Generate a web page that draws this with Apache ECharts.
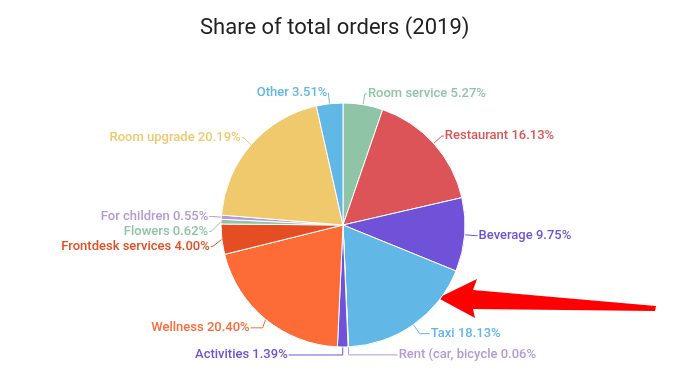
<!DOCTYPE html>
<html>
<head>
<meta charset="utf-8">
<script src="https://cdn.jsdelivr.net/npm/echarts@6/dist/echarts.min.js"></script>
<style>html,body{margin:0;padding:0;background:#fff;}#c{width:677px;height:379px;}</style>
</head>
<body>
<div id="c"></div>
<script>
var categories = ["Room service","Restaurant","Beverage","Taxi","Rent (car, bicycle","Activities","Wellness","Frontdesk services","Flowers","For children","Room upgrade","Other"];
var values = [5.27,16.13,9.75,18.13,0.06,1.39,20.40,4.00,0.62,0.55,20.19,3.51];
var colors = ["#8fc4a6","#dc5457","#6f52d8","#61b7e5","#b39ad6","#6f52d8","#fd6b37","#e54e22","#8fc4a6","#b39ad6","#efc96b","#61b7e5"];
var extraLen2 = {"Rent (car, bicycle":49, "Activities":54, "Taxi":10, "Wellness":12, "Other":0};

var chart = echarts.init(document.getElementById('c'), null, {renderer:'canvas'});
var data = categories.map(function(n,i){
  var d = {name:n, value:values[i], itemStyle:{color:colors[i]}, label:{color:colors[i]}, labelLine:{lineStyle:{color:colors[i]}}};
  if (extraLen2.hasOwnProperty(n)) { d.labelLine.length2 = extraLen2[n]; }
  if (n === 'Rent (car, bicycle' || n === 'Activities') { d.labelLine.length = 8; }
  return d;
});
chart.setOption({
  animation:false,
  title:{text:'Share of total orders (2019)', left:195, top:12, textStyle:{fontFamily:'Roboto', fontSize:22, fontWeight:'normal', color:'#222'}},
  series:[{
    type:'pie',
    center:[343,225],
    radius:[0,122],
    startAngle:90,
    clockwise:true,
    avoidLabelOverlap:true,
    itemStyle:{borderColor:'#fff', borderWidth:1},
    label:{show:true, position:'outside', fontFamily:'Roboto', fontSize:13, fontWeight:500, distanceToLabelLine:1,
      formatter:function(p){return p.name+' '+p.value.toFixed(2)+'%';}},
    labelLine:{show:true, length:11, length2:2, smooth:false},
    data:data
  }],
  graphic:[{
    type:'polygon',
    shape:{points:[[438,298],[477,279],[473,290],[656,306],[655,311],[473,309],[475,318]]},
    style:{fill:'#ff0000'}
  }]
});
</script>
</body>
</html>
